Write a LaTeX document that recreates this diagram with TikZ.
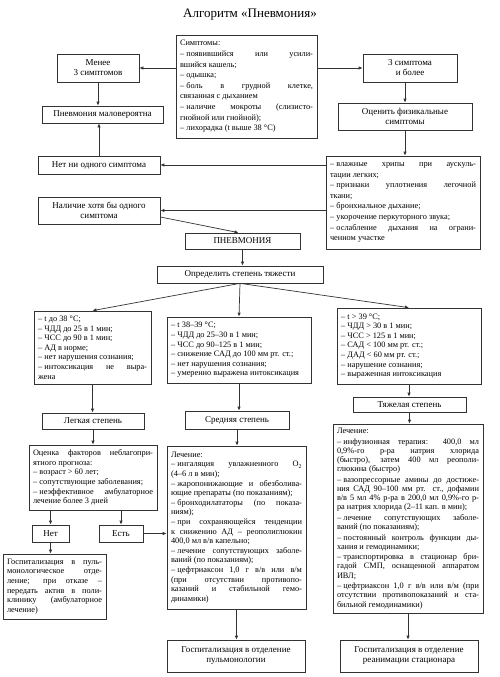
\documentclass[tikz,border=0pt]{standalone}
\usepackage{fontspec}
\setmainfont{Liberation Serif}
\usepackage{tikz}
\usetikzlibrary{arrows.meta}
\exhyphenpenalty=10000
\hbadness=10000
\tolerance=10000
\newcommand{\dsh}{–\kern0.28em}
\tikzset{
  box/.style={draw=black!80, line width=0.7pt, fill=white, font=\fontsize{9}{10}\selectfont, inner sep=2pt},
  lbl/.style={box, align=center},
  lst/.style={box, align=justify, font=\fontsize{8.3}{9.6}\selectfont, inner xsep=4pt, inner ysep=3pt},
  arr/.style={-{Latex[length=4pt,width=3.4pt]}, line width=0.7pt, draw=black!80}
}

\begin{document}
\begin{tikzpicture}[x=1pt, y=-1pt]
            
                \useasboundingbox (0,0) rectangle (499,677);
                \node[font=\fontsize{13}{15}\selectfont] (title) at (250,15) {Алгоритм «Пневмония»};
            
                \node[lst, font=\fontsize{8.3}{10.6}\selectfont, text width=133pt, minimum width=141pt, minimum height=103pt] (sympt) at (246.5,86.5) {Симптомы:\\
                    \dsh появившийся или усили-\linebreak вшийся кашель;\\
                    \dsh одышка;\\
                    \dsh боль в грудной клетке,\linebreak связанная с дыханием\\
                    \dsh наличие мокроты (слизисто-\linebreak гнойной или гнойной);\\
                    \dsh лихорадка (t выше 38 °C)};
                \node[lbl, minimum width=82pt, minimum height=28pt] (less) at (98,68) {Менее\\3 симптомов};
                \node[lbl, minimum width=94pt, minimum height=28pt] (more) at (410,68) {3 симптома\\и более};
                \node[lbl, minimum width=121pt, minimum height=17pt] (unlikely) at (102.5,114.5) {Пневмония маловероятна};
                \node[lbl, minimum width=134pt, minimum height=27pt] (assess) at (405,116.5) {Оценить физикальные\\симптомы};
                \node[lbl, minimum width=122pt, minimum height=18pt] (none) at (99,165) {Нет ни одного симптома};
                \node[lst, font=\fontsize{8.3}{10.6}\selectfont, text width=146pt, minimum width=154pt, minimum height=93pt] (signs) at (403,202.5) {\dsh влажные хрипы при аускуль-\linebreak тации легких;\\
                    \dsh признаки уплотнения легочной\linebreak ткани;\\
                    \dsh бронхиальное дыхание;\\
                    \dsh укорочение перкуторного звука;\\
                    \dsh ослабление дыхания на ограни-\linebreak ченном участке};
                \node[lbl, minimum width=122pt, minimum height=27pt] (atleast) at (99,210.5) {Наличие хотя бы одного\\симптома};
                \node[lbl, minimum width=115pt, minimum height=16pt] (pneu) at (242.5,241) {ПНЕВМОНИЯ};
                \node[lbl, minimum width=166pt, minimum height=17pt] (severity) at (240,274.5) {Определить степень тяжести};
            
                \node[lst, text width=109pt, minimum width=117pt, minimum height=73pt] (mildc) at (92.5,347.5) {\dsh t до 38 °C;\\
                    \dsh ЧДД до 25 в 1 мин;\\
                    \dsh ЧСС до 90 в 1 мин;\\
                    \dsh АД в норме;\\
                    \dsh нет нарушения сознания;\\
                    \dsh интоксикация не выра-\linebreak жена};
                \node[lst, text width=136pt, minimum width=144pt, minimum height=66pt] (modc) at (239,350) {\dsh t 38–39 °C;\\
                    \dsh ЧДД до 25–30 в 1 мин;\\
                    \dsh ЧСС до 90–125 в 1 мин;\\
                    \dsh снижение САД до 100 мм рт. ст.;\\
                    \dsh нет нарушения сознания;\\
                    \dsh умеренно выражена интоксикация};
                \node[lst, text width=136pt, minimum width=144pt, minimum height=76pt] (severec) at (409,346) {\dsh t > 39 °C;\\
                    \dsh ЧДД > 30 в 1 мин;\\
                    \dsh ЧСС > 125 в 1 мин;\\
                    \dsh САД < 100 мм рт. ст.;\\
                    \dsh ДАД < 60 мм рт. ст.;\\
                    \dsh нарушение сознания;\\
                    \dsh выраженная интоксикация};
                \node[lbl, minimum width=102pt, minimum height=16pt] (mild) at (93,421) {Легкая степень};
                \node[lbl, minimum width=104pt, minimum height=18pt] (moderate) at (237,420) {Средняя степень};
                \node[lbl, minimum width=113pt, minimum height=15pt] (severe) at (409.5,404.5) {Тяжелая степень};
            
                \node[lst, text width=120pt, minimum width=128pt, minimum height=65pt] (factors) at (93,477.5) {Оценка факторов неблагопри-\linebreak ятного прогноза:\\
                    \dsh возраст > 60 лет;\\
                    \dsh сопутствующие заболевания;\\
                    \dsh неэффективное амбулаторное\linebreak лечение более 3 дней};
                \node[lbl, minimum width=37pt, minimum height=17pt] (no) at (50.5,533.5) {Нет};
                \node[lbl, minimum width=44pt, minimum height=17pt] (yes) at (121,533.5) {Есть};
                \node[lst, text width=95pt, minimum width=103pt, minimum height=65pt] (hospL) at (54.5,586.5) {Госпитализация в пуль-\linebreak монологическое отде-\linebreak ление; при отказе –\linebreak передать актив в поли-\linebreak клинику (амбулаторное\linebreak лечение)};
                \node[lst, text width=131pt, minimum width=139pt, minimum height=163pt] (treatM) at (236.5,527.5) {Лечение:\\
                    \dsh ингаляция увлажненного O\textsubscript{2}\linebreak (4–6 л в мин);\\
                    \dsh жаропонижающие и обезболива-\linebreak ющие препараты (по показаниям);\\
                    \dsh бронходилататоры (по показа-\linebreak ниям);\\
                    \dsh при сохраняющейся тенденции\linebreak к снижению АД – реополиглюкин\linebreak 400,0 мл в/в капельно;\\
                    \dsh лечение сопутствующих заболе-\linebreak ваний (по показаниям);\\
                    \dsh цефтриаксон 1,0 г в/в или в/м\linebreak (при отсутствии противопо-\linebreak казаний и стабильной гемо-\linebreak динамики)};
                \node[lst, font=\fontsize{8.3}{9.2}\selectfont, text width=142pt, minimum width=150pt, minimum height=189pt] (treatS) at (408,518.5) {Лечение:\\[1.3pt]
                    \dsh инфузионная терапия: 400,0 мл\linebreak 0,9\%-го р-ра натрия хлорида\linebreak (быстро), затем 400 мл реополи-\linebreak глюкина (быстро)\\[1.3pt]
                    \dsh вазопрессорные амины до достиже-\linebreak ния САД 90–100 мм рт. ст., дофамин\linebreak в/в 5 мл 4\% р-ра в 200,0 мл 0,9\%-го р-\linebreak ра натрия хлорида (2–11 кап. в мин);\\[1.3pt]
                    \dsh лечение сопутствующих заболе-\linebreak ваний (по показаниям);\\[1.3pt]
                    \dsh постоянный контроль функции ды-\linebreak хания и гемодинамики;\\[1.3pt]
                    \dsh транспортировка в стационар бри-\linebreak гадой СМП, оснащенной аппаратом\linebreak ИВЛ;\\[1.3pt]
                    \dsh цефтриаксон 1,0 г в/в или в/м (при\linebreak отсутствии противопоказаний и ста-\linebreak бильной гемодинамики)};
                \node[lbl, minimum width=138pt, minimum height=32pt] (hospM) at (236,656) {Госпитализация в отделение\\пульмонологии};
                \node[lbl, minimum width=138pt, minimum height=32pt] (hospS) at (409,656) {Госпитализация в отделение\\реанимации стационара};
            
                \draw[arr] (sympt.west |- less.east) -- (less.east);
                \draw[arr] (sympt.east |- more.west) -- (more.west);
                \draw[arr] (less.south) -- (less.south |- unlikely.north);
                \draw[arr] (none.north) -- (none.north |- unlikely.south);
                \draw[arr] (assess.north |- more.south) -- (assess.north);
                \draw[arr] (assess.south) -- (assess.south |- signs.north);
                \draw[arr] (signs.west |- none.east) -- (none.east);
                \draw[arr] (signs.west |- atleast.east) -- (atleast.east);
                \draw[arr] ([yshift=-6.5pt]atleast.east) -- ([xshift=-4pt]pneu.north);
                \draw[arr] (pneu.south) -- (pneu.south |- severity.north);
                \draw[arr] (severity.south) -- (mildc.north);
                \draw[arr] (severity.south) -- (modc.north);
                \draw[arr] (severity.south) -- (severec.north);
                \draw[arr] (mildc.south) -- (mildc.south |- mild.north);
                \draw[arr] (modc.south) -- (modc.south |- moderate.north);
                \draw[arr] (severec.south) -- (severec.south |- severe.north);
                \draw[arr] (mild.south) -- (mild.south |- factors.north);
                \draw[arr] (moderate.south) -- (moderate.south |- treatM.north);
                \draw[arr] (severe.south) -- (severe.south |- treatS.north);
                \draw[arr] (no.north |- factors.south) -- (no.north);
                \draw[arr] (yes.north |- factors.south) -- (yes.north);
                \draw[arr] (no.south) -- (no.south |- hospL.north);
                \draw[arr] (yes.east) -- (yes.east -| treatM.west);
                \draw[arr] (treatM.south) -- (treatM.south |- hospM.north);
                \draw[arr] (treatS.south) -- (treatS.south |- hospS.north);
        
\end{tikzpicture}
\end{document}
